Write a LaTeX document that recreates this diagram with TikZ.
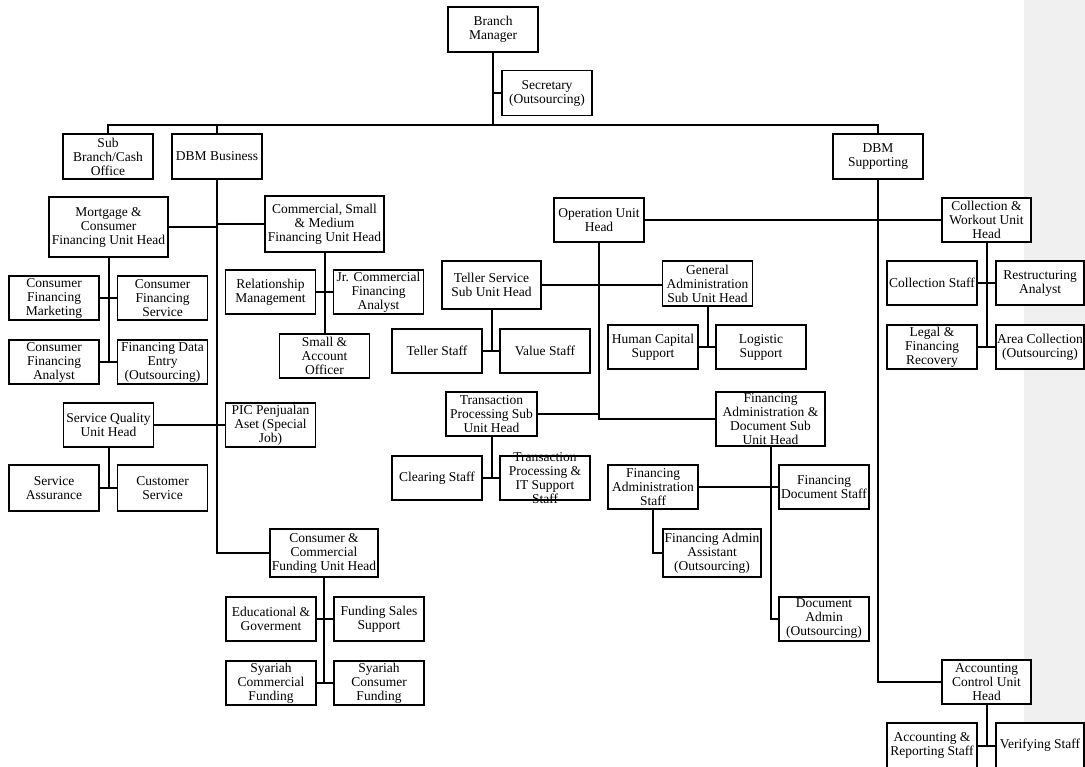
\documentclass[tikz,border=0pt]{standalone}
\usepackage{fontspec}
\setmainfont{Liberation Serif}
\begin{document}
\begin{tikzpicture}[x=1pt,y=-1pt,
  box/.style={draw, line width=1.8pt, fill=white, inner sep=0pt, align=center,
    minimum width=90pt, minimum height=45pt, font=\fontsize{13.5}{14}\selectfont},
  txt/.style={inner sep=0pt, align=center, font=\fontsize{13.5}{14}\selectfont},
  conn/.style={line width=2pt}]
\useasboundingbox (0,0) rectangle (1085,767);
\fill[gray!12] (1024,0) rectangle (1085,767);

% top level
\node[box] (bm) at (493,29.5) {Branch\\Manager};
\node[box] (sec) at (547,93) {Secretary\\(Outsourcing)};
\node[box] (sb) at (108,156.5) {Sub\\Branch/Cash\\Office};
\node[box] (dbmb) at (217,156.5) {DBM Business};
\node[box] (dbms) at (878,156.5) {DBM\\Supporting};
\coordinate (bar) at (493,125);

% DBM Business side
\node[box, minimum width=119pt, minimum height=60pt] (mort) at (108.5,227) {Mortgage \&\\Consumer\\Financing Unit Head};
\node[box, minimum width=119pt, minimum height=56pt] (csm) at (324.5,224) {Commercial, Small\\\& Medium\\Financing Unit Head};
\node[box, minimum height=44pt] (cfm) at (54,298) {Consumer\\Financing\\Marketing};
\node[box, minimum height=44pt] (cfs) at (162.5,298) {Consumer\\Financing\\Service};
\node[box, minimum height=44pt] (cfa) at (54,362) {Consumer\\Financing\\Analyst};
\node[box, minimum height=44pt] (fde) at (162.5,362) {Financing Data\\Entry\\(Outsourcing)};
\node[box, minimum height=44pt] (rm) at (270.5,292) {Relationship\\Management};
\node[box, minimum height=44pt] (jr) at (378.5,292) {Jr. Commercial\\Financing\\Analyst};
\node[box, minimum height=44pt] (sao) at (324.5,356) {Small \&\\Account\\Officer};
\node[box, minimum height=44pt] (sq) at (108.5,425) {Service Quality\\Unit Head};
\node[box, minimum height=44pt] (pic) at (270.5,425) {PIC Penjualan\\Aset (Special\\Job)};
\node[box, minimum height=46pt] (sa) at (54,488) {Service\\Assurance};
\node[box, minimum height=46pt] (cs) at (162.5,488) {Customer\\Service};
\node[box, minimum width=108pt, minimum height=48pt] (ccf) at (324,553) {Consumer \&\\Commercial\\Funding Unit Head};
\node[box, minimum height=44pt] (edu) at (271,619) {Educational \&\\Goverment};
\node[box, minimum height=44pt] (fss) at (379,619) {Funding Sales\\Support};
\node[box, minimum height=44pt] (scf) at (271,683) {Syariah\\Commercial\\Funding};
\node[box, minimum height=44pt] (scon) at (379,683) {Syariah\\Consumer\\Funding};

% Operation
\node[box, minimum height=44pt] (ouh) at (599,220) {Operation Unit\\Head};
\node[box, minimum width=99pt, minimum height=48pt] (ts) at (491.5,285) {Teller Service\\Sub Unit Head};
\node[box] (ga) at (707.5,283.5) {General\\Administration\\Sub Unit Head};
\node[box, minimum height=44pt] (tst) at (437,351) {Teller Staff};
\node[box, minimum height=44pt] (vs) at (545,351) {Value Staff};
\node[box, minimum height=44pt] (hcs) at (653,347) {Human Capital\\Support};
\node[box, minimum height=44pt] (ls) at (761,347) {Logistic\\Support};
\node[box, minimum width=91pt, minimum height=44pt] (tp) at (491.5,414) {Transaction\\Processing Sub\\Unit Head};
\node[box, minimum width=109pt, minimum height=54pt] (fad) at (770.5,419) {};
\node[txt] (fadt) at (770.5,419.5) {Financing\\Administration \&\\Document Sub\\Unit Head};
\node[box, minimum height=44pt] (cls) at (437,478) {Clearing Staff};
\node[box, minimum height=44pt] (tpit) at (545,478) {};
\node[txt] (tpitt) at (545,478) {Transaction\\Processing \&\\IT Support\\Staff};
\node[box, minimum height=44pt] (fas) at (653,487) {Financing\\Administration\\Staff};
\node[box, minimum height=44pt] (fds) at (824,487) {Financing\\Document Staff};
\node[box, minimum width=98pt, minimum height=48pt] (faa) at (712,553) {Financing Admin\\Assistant\\(Outsourcing)};
\node[box, minimum height=44pt] (da) at (824,619) {Document\\Admin\\(Outsourcing)};

% DBM Supporting side
\node[box, minimum width=89pt, minimum height=44pt] (cw) at (986.5,220) {Collection \&\\Workout Unit\\Head};
\node[box, minimum height=44pt] (cst) at (932,283) {Collection Staff};
\node[box, minimum width=88pt, minimum height=44pt] (ra) at (1040,283) {Restructuring\\Analyst};
\node[box, minimum height=44pt] (lfr) at (932,347) {Legal \&\\Financing\\Recovery};
\node[box, minimum width=88pt, minimum height=44pt] (ac) at (1040,347) {Area Collection\\(Outsourcing)};
\node[box, minimum width=89pt, minimum height=44pt] (acu) at (986.5,682) {Accounting\\Control Unit\\Head};
\node[box] (ars) at (932,745.5) {Accounting \&\\Reporting Staff};
\node[box, minimum width=88pt] (vfs) at (1040,745.5) {Verifying Staff};

% connectors
\begin{scope}[conn]
\draw (bm.south) -- (bar);
\draw (sec.west) -- (sec.west -| bm.south);
\draw (sb.north) |- (bar) -| (dbms.north);
\draw (dbmb.north) -- (dbmb.north |- bar);
\draw (dbmb.south) |- (ccf.west);
\draw (mort.east) -- (mort.east -| dbmb.south);
\draw (csm.west) -- (csm.west -| dbmb.south);
\draw (mort.south) -- (mort.south |- cfa.east);
\draw (cfm.east) -- (cfs.west);
\draw (cfa.east) -- (fde.west);
\draw (csm.south) -- (sao.north);
\draw (rm.east) -- (jr.west);
\draw (sq.east) -- (pic.west);
\draw (sq.south) -- (sq.south |- sa.east);
\draw (sa.east) -- (cs.west);
\draw (ccf.south) -- (ccf.south |- scf.east);
\draw (edu.east) -- (fss.west);
\draw (scf.east) -- (scon.west);
\draw (ouh.east) -- (cw.west);
\draw (ouh.south) |- (fad.west);
\draw (ts.east) -- (ts.east -| ga.west);
\draw (ts.south) -- (ts.south |- tst.east);
\draw (tst.east) -- (vs.west);
\draw (ga.south) -- (ga.south |- hcs.east);
\draw (hcs.east) -- (ls.west);
\draw (tp.east) -- (tp.east -| ouh.south);
\draw (tp.south) -- (tp.south |- cls.east);
\draw (cls.east) -- (tpit.west);
\draw (fas.east) -- (fds.west);
\draw (fad.south) |- (da.west);
\draw (fas.south) |- (faa.west);
\draw (dbms.south) |- (acu.west);
\draw (cw.south) -- (cw.south |- lfr.east);
\draw (cst.east) -- (ra.west);
\draw (lfr.east) -- (ac.west);
\draw (acu.south) -- (acu.south |- ars.east);
\draw (ars.east) -- (vfs.west);
\end{scope}
\end{tikzpicture}
\end{document}
